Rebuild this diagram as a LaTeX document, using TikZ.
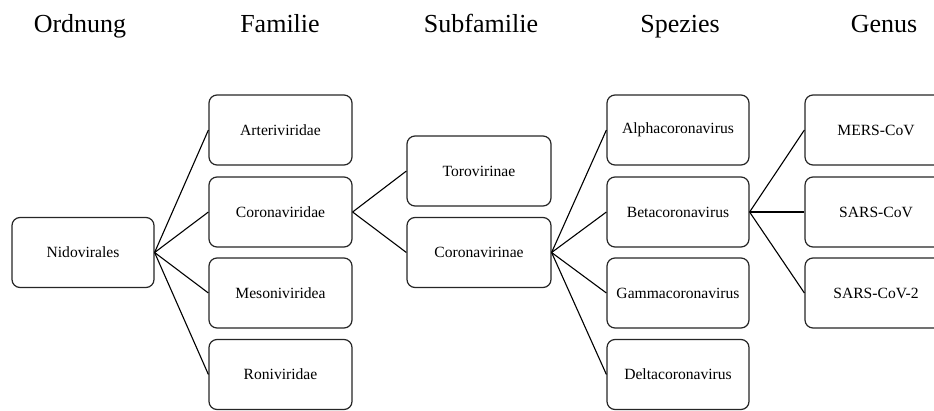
\documentclass[tikz,border=0pt]{standalone}
\usepackage{fontspec}
\setmainfont{Liberation Serif}
\begin{document}
\begin{tikzpicture}[x=1pt,y=-1pt,
  taxbox/.style={draw=black!85, line width=1.2pt, rounded corners=8pt, minimum width=142pt, minimum height=70pt, inner sep=0pt, font=\fontsize{15.6}{18}\selectfont, fill=white},
  header/.style={font=\fontsize{26}{30}\selectfont, anchor=base},
  conn/.style={draw=black, line width=1.1pt}]
\useasboundingbox (0,0) rectangle (934,410);
\clip (0,0) rectangle (934,410);
% headers
\node[header] (hOrd) at (80,32) {Ordnung};
\node[header] (hFam) at (280,32) {Familie};
\node[header] (hSub) at (481,32) {Subfamilie};
\node[header] (hSpe) at (680,32) {Spezies};
\node[header] (hGen) at (884,32) {Genus};
% nodes
\node[taxbox] (nid) at (83,252.5) {Nidovirales};
\node[taxbox, minimum width=143pt] (art) at (280.5,130) {Arteriviridae};
\node[taxbox, minimum width=143pt] (corf) at (280.5,212) {Coronaviridae};
\node[taxbox, minimum width=143pt] (mes) at (280.5,293) {Mesoniviridea};
\node[taxbox, minimum width=143pt] (ron) at (280.5,374.5) {Roniviridae};
\node[taxbox, minimum width=144pt] (tor) at (479,171) {Torovirinae};
\node[taxbox, minimum width=144pt] (cors) at (479,252.5) {Coronavirinae};
\node[taxbox] (alp) at (678,130) {Alphacoronavirus};
\node[taxbox] (bet) at (678,212) {Betacoronavirus};
\node[taxbox] (gam) at (678,293) {Gammacoronavirus};
\node[taxbox] (del) at (678,374.5) {Deltacoronavirus};
\node[taxbox] (mers) at (876,130) {MERS-CoV};
\node[taxbox] (sars) at (876,212) {SARS-CoV};
\node[taxbox] (sars2) at (876,293) {SARS-CoV-2};
% connectors
\foreach \t in {art,corf,mes,ron} \draw[conn] (nid.east) -- (\t.west);
\foreach \t in {tor,cors} \draw[conn] (corf.east) -- (\t.west);
\foreach \t in {alp,bet,gam,del} \draw[conn] (cors.east) -- (\t.west);
\foreach \t in {mers,sars,sars2} \draw[conn] (bet.east) -- (\t.west);
\end{tikzpicture}
\end{document}
